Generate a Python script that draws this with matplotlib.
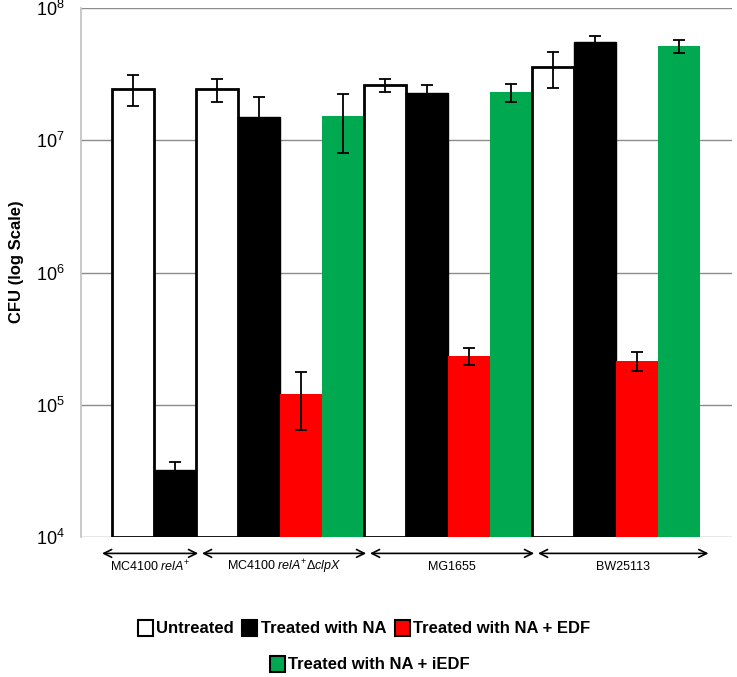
import numpy as np
import matplotlib
matplotlib.use("Agg")
import matplotlib.pyplot as plt
from matplotlib.patches import Patch
import matplotlib.transforms as mtransforms

plt.rcParams['font.family'] = ['Liberation Sans', 'DejaVu Sans']
plt.rcParams['mathtext.fontset'] = 'custom'
plt.rcParams['mathtext.rm'] = 'Liberation Sans'
plt.rcParams['mathtext.it'] = 'Liberation Sans:italic'
plt.rcParams['mathtext.bf'] = 'Liberation Sans:bold'

# ---- data ----
group_labels = [r"MC4100 $\mathit{relA}^{+}$",
                r"MC4100 $\mathit{relA}^{+}\mathit{Δ clpX}$",
                "MG1655", "BW25113"]
treatments = ["Untreated", "Treated with NA", "Treated with NA + EDF",
              "Treated with NA + iEDF"]
untreated = [2.45e7, 2.43e7, 2.61e7, 3.57e7]
untreated_err = [0.65e7, 0.48e7, 0.30e7, 1.08e7]
na = [3.2e4, 1.49e7, 2.27e7, 5.52e7]
na_err = [0.5e4, 0.63e7, 0.34e7, 0.62e7]
edf = [np.nan, 1.21e5, 2.35e5, 2.15e5]
edf_err = [np.nan, 0.57e5, 0.35e5, 0.36e5]
iedf = [np.nan, 1.52e7, 2.31e7, 5.15e7]
iedf_err = [np.nan, 0.72e7, 0.37e7, 0.59e7]
yticks = [1e4, 1e5, 1e6, 1e7, 1e8]
ytick_labels = [r"$\mathregular{10^{4}}$", r"$\mathregular{10^{5}}$",
                r"$\mathregular{10^{6}}$", r"$\mathregular{10^{7}}$",
                r"$\mathregular{10^{8}}$"]

series = [untreated, na, edf, iedf]
series_err = [untreated_err, na_err, edf_err, iedf_err]
face = ["white", "black", "#ff0000", "#00a84f"]
edge = ["black", "black", "none", "none"]
lws = [2.0, 1.0, 0, 0]

W, H = 737, 677
fig = plt.figure(figsize=(W / 100, H / 100), dpi=100)
ax = fig.add_axes([81 / W, 1 - 537 / H, (732 - 81) / W, (537 - 8) / H])
ax.set_yscale('log')
ax.set_ylim(1e4, 1e8)

pos = 0
group_spans = []
for g in range(len(group_labels)):
    start = pos
    for s in range(len(series)):
        v = series[s][g]
        if np.isnan(v):
            continue
        ax.bar(pos, v - 1e4, bottom=1e4, width=1.0, color=face[s],
               edgecolor=edge[s], linewidth=lws[s], zorder=3)
        ax.errorbar(pos, v, yerr=series_err[s][g], fmt='none', ecolor='black',
                    elinewidth=1.3, capsize=4, capthick=1.3, zorder=4)
        pos += 1
    group_spans.append((start - 0.5, pos - 0.5))

ax.set_xlim(-1.24, pos - 0.5 + 0.76)
ax.set_yticks(yticks)
ax.set_yticklabels(ytick_labels, fontsize=13)
ax.yaxis.set_minor_locator(matplotlib.ticker.NullLocator())
ax.tick_params(axis='y', length=0, pad=12)
ax.set_xticks([])
for y in yticks:
    ax.axhline(y, color='#8c8c8c', lw=1.0, zorder=1)
for sp in ['top', 'right', 'bottom']:
    ax.spines[sp].set_visible(False)
ax.spines['left'].set_color('#c0c0c0')
ax.spines['left'].set_linewidth(1.2)
ax.set_ylabel("CFU (log Scale)", fontsize=12, fontweight='bold')
ax.yaxis.set_label_coords(-0.088, 0.52)

trans = mtransforms.blended_transform_factory(ax.transData, ax.transAxes)
for i, (a, b) in enumerate(group_spans):
    x0 = a - 0.24 if i == 0 else a + 0.14
    x1 = b + 0.05 if i < len(group_spans) - 1 else b + 0.2
    ax.annotate('', xy=(x1, -0.031), xytext=(x0, -0.031), xycoords=trans,
                textcoords=trans,
                arrowprops=dict(arrowstyle='<->', lw=1.2, color='black',
                                mutation_scale=14, shrinkA=0, shrinkB=0),
                annotation_clip=False)
    ax.text((x0 + x1) / 2, -0.056, group_labels[i], transform=trans,
            ha='center', va='center', fontsize=9)

handles = [Patch(facecolor=face[i], edgecolor='black', linewidth=1.5)
           for i in range(4)]
leg1 = fig.legend(handles[:3], treatments[:3], loc='center',
                  bbox_to_anchor=(364 / W, 1 - 628 / H), ncol=3, frameon=False,
                  prop={'weight': 'bold', 'size': 12}, handlelength=0.9,
                  handleheight=1.1, handletextpad=0.2, columnspacing=0.5)
leg2 = fig.legend(handles[3:], treatments[3:], loc='center',
                  bbox_to_anchor=(370 / W, 1 - 664 / H), ncol=1, frameon=False,
                  prop={'weight': 'bold', 'size': 12}, handlelength=0.9,
                  handleheight=1.1, handletextpad=0.2)

fig.savefig("out.png", dpi=100)
